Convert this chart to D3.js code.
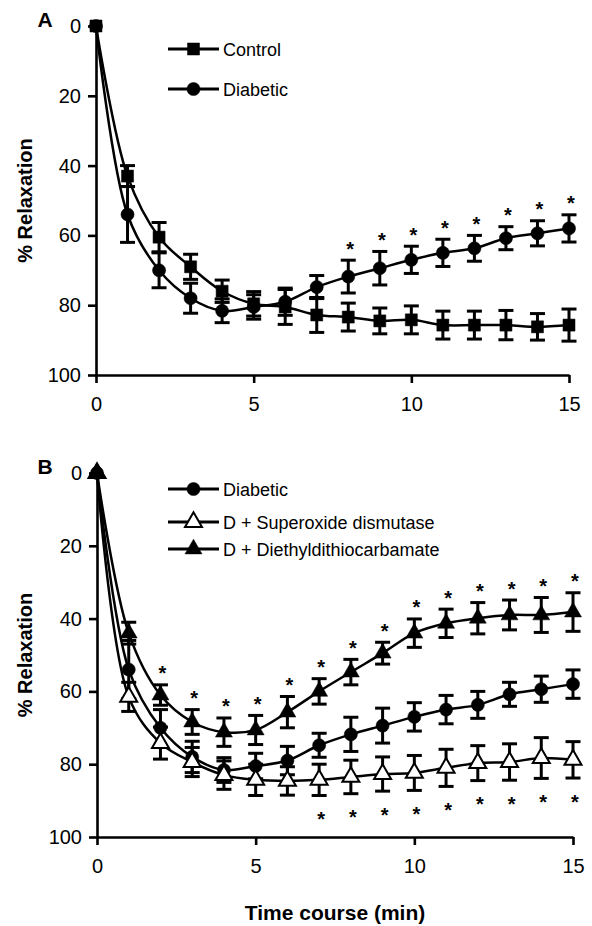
<!DOCTYPE html>
<html>
<head>
<meta charset="utf-8">
<script src="https://cdn.jsdelivr.net/npm/d3@7"></script>
<style>
  body { margin: 0; background: #fff; }
  svg { font-family: "Liberation Sans", Arial, sans-serif; }
</style>
</head>
<body>
<svg id="chart" width="592" height="926"></svg>
<script>
// time points (min)
var time = [0,1,2,3,4,5,6,7,8,9,10,11,12,13,14,15];

// % relaxation, mean and SEM
var controlMean  = [0,43,60.5,69,76,79.6,80.5,82.8,83.4,84.5,84.2,85.7,85.7,85.7,86.2,85.7];
var controlErr   = [0,3,4.2,3.6,3.2,3.5,5,5,4,3.7,4,4,4,4.2,3.8,4.6];
var diabeticMean = [0,54,70,78,81.6,80.5,79,74.8,71.8,69.4,67,65,63.7,60.8,59.4,58];
var diabeticErr  = [0,8,5,4.3,3.4,3.5,3.9,3.3,4.7,4.8,3.9,3.9,3.7,3.3,3.6,3.9];
var sodMean      = [0,61.5,74.2,79.4,83,84.3,84.6,84.3,83.5,82.7,82.4,81,79.7,79.4,78.3,78.8];
var sodErr       = [0,4,4.4,4,3.9,4.3,3.9,4.3,4.6,4.7,4.8,5.1,4.8,5,5.6,5];
var ddcMean      = [0,44,61,68.4,71.2,70.6,65.7,60,54.7,49.5,44,41.3,39.9,39,39,38.2];
var ddcErr       = [0,3,2.8,3.4,3.9,4,4.3,3.5,3.5,3,3.9,3.9,4.3,4.1,4.8,5.3];

// time points marked significant (*)
var starsDiabeticA = [8,9,10,11,12,13,14,15];
var starsDdcB      = [2,3,4,5,6,7,8,9,10,11,12,13,14,15];
var starsSodB      = [7,8,9,10,11,12,13,14,15];

var yTicks = [0,20,40,60,80,100];
var xTicks = [0,5,10,15];

var svg = d3.select("#chart");

function series(mean, err) {
  return time.map(function(t, i) { return {t: t, v: mean[i], e: err[i]}; });
}

function drawPanel(opt) {
  var x = d3.scaleLinear().domain([0, 15]).range([opt.x0, opt.x1]);
  var y = d3.scaleLinear().domain([0, 100]).range([opt.y0, opt.y1]);
  var g = svg.append("g");

  // axes
  var ya = g.append("g").attr("transform", "translate(" + opt.x0 + ",0)")
    .call(d3.axisLeft(y).tickValues(yTicks).tickSize(8).tickPadding(7).tickSizeOuter(0));
  var xa = g.append("g").attr("transform", "translate(0," + opt.y1 + ")")
    .call(d3.axisBottom(x).tickValues(xTicks).tickSize(8).tickPadding(14).tickSizeOuter(0));
  [ya, xa].forEach(function(a) {
    a.select(".domain").attr("stroke-width", 2.6);
    a.selectAll(".tick line").attr("stroke-width", 2.6);
    a.selectAll("text").attr("font-size", 20).attr("fill", "#000")
      .attr("font-family", "Liberation Sans, Arial, sans-serif");
  });

  // y title
  g.append("text")
    .attr("transform", "translate(32," + ((opt.y0 + opt.y1) / 2) + ") rotate(-90)")
    .attr("text-anchor", "middle").attr("font-size", 20).attr("font-weight", "bold")
    .text("% Relaxation");

  // panel letter
  g.append("text").attr("x", 45).attr("y", opt.y0 + 1)
    .attr("text-anchor", "middle").attr("font-size", 21).attr("font-weight", "bold")
    .text(opt.letter);

  var line = d3.line().x(function(d) { return x(d.t); }).y(function(d) { return y(d.v); })
    .curve(d3.curveCatmullRom.alpha(0.5));

  opt.series.forEach(function(s) {
    var data = series(s.mean, s.err);
    g.append("path").datum(data).attr("d", line)
      .attr("fill", "none").attr("stroke", "#000").attr("stroke-width", 2.5);
  });

  opt.series.forEach(function(s) {
    var data = series(s.mean, s.err).filter(function(d) { return d.e > 0; });
    var eb = g.append("g").attr("stroke", "#000").attr("stroke-width", 3);
    eb.selectAll(".v").data(data).enter().append("line")
      .attr("x1", function(d) { return x(d.t); }).attr("x2", function(d) { return x(d.t); })
      .attr("y1", function(d) { return y(d.v - d.e); }).attr("y2", function(d) { return y(d.v + d.e); });
    [-1, 1].forEach(function(sgn) {
      eb.selectAll(".c" + sgn).data(data).enter().append("line")
        .attr("x1", function(d) { return x(d.t) - 7.5; }).attr("x2", function(d) { return x(d.t) + 7.5; })
        .attr("y1", function(d) { return y(d.v + sgn * d.e); }).attr("y2", function(d) { return y(d.v + sgn * d.e); });
    });
  });

  opt.series.forEach(function(s) {
    var data = series(s.mean, s.err);
    g.selectAll(null).data(data).enter().append("path")
      .attr("transform", function(d) { return "translate(" + x(d.t) + "," + y(d.v) + ")"; })
      .attr("d", s.symbol)
      .attr("fill", s.fill).attr("stroke", "#000").attr("stroke-width", s.fill === "#fff" ? 2 : 0.5);
  });

  // significance stars
  opt.stars.forEach(function(st) {
    g.selectAll(null).data(st.idx).enter().append("text")
      .attr("x", function(i) { return x(time[i]) + 2; })
      .attr("y", function(i) {
        var c = st.above ? y(st.mean[i] - st.err[i]) - 16 : y(st.mean[i] + st.err[i]) + 19;
        return c + 11.5;
      })
      .attr("text-anchor", "middle").attr("font-size", 20).attr("font-weight", "bold").text("*");
  });

  // legend
  opt.series.forEach(function(s, k) {
    var ly = opt.legendY[k];
    g.append("line").attr("x1", 168).attr("x2", 219).attr("y1", ly).attr("y2", ly)
      .attr("stroke", "#000").attr("stroke-width", 2.8);
    g.append("path").attr("transform", "translate(193.5," + ly + ")").attr("d", s.symbol)
      .attr("fill", s.fill).attr("stroke", "#000").attr("stroke-width", s.fill === "#fff" ? 2 : 0.5);
    g.append("text").attr("x", 223).attr("y", ly + 6.5).attr("font-size", 18).text(s.name);
  });
}

var sq = d3.symbol().type(d3.symbolSquare).size(145)();
var ci = d3.symbol().type(d3.symbolCircle).size(135)();
var tr = d3.symbol().type(d3.symbolTriangle).size(125)();

drawPanel({
  letter: "A", x0: 96, x1: 569, y0: 26, y1: 375,
  legendY: [49, 89],
  series: [
    {name: "Control", mean: controlMean, err: controlErr, symbol: sq, fill: "#000"},
    {name: "Diabetic", mean: diabeticMean, err: diabeticErr, symbol: ci, fill: "#000"}
  ],
  stars: [{idx: starsDiabeticA, mean: diabeticMean, err: diabeticErr, above: true}]
});

drawPanel({
  letter: "B", x0: 97, x1: 573, y0: 473, y1: 837,
  legendY: [489, 522, 549],
  series: [
    {name: "Diabetic", mean: diabeticMean, err: diabeticErr, symbol: ci, fill: "#000"},
    {name: "D + Superoxide dismutase", mean: sodMean, err: sodErr, symbol: tr, fill: "#fff"},
    {name: "D + Diethyldithiocarbamate", mean: ddcMean, err: ddcErr, symbol: tr, fill: "#000"}
  ],
  stars: [
    {idx: starsDdcB, mean: ddcMean, err: ddcErr, above: true},
    {idx: starsSodB, mean: sodMean, err: sodErr, above: false}
  ]
});

svg.append("text").attr("x", 335).attr("y", 920).attr("text-anchor", "middle")
  .attr("font-size", 21).attr("font-weight", "bold").text("Time course (min)");
</script>
</body>
</html>
